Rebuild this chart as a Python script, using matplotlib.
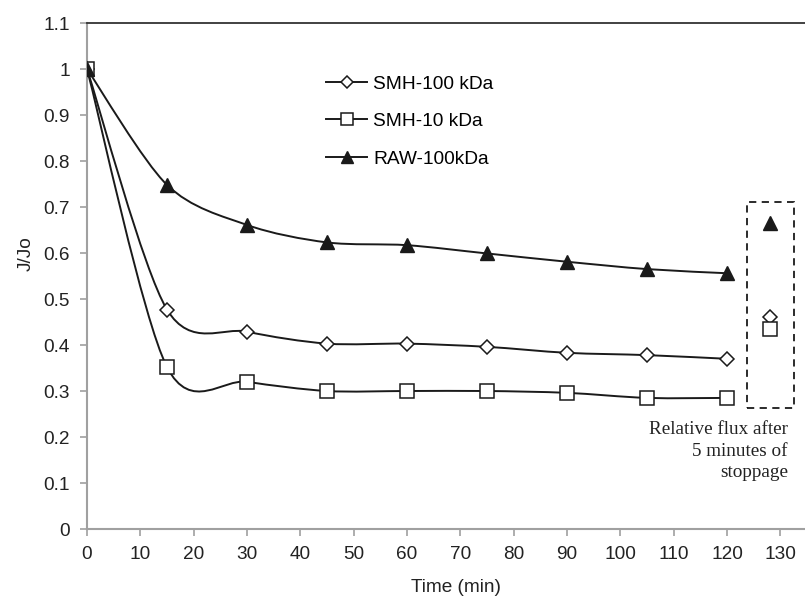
import matplotlib
matplotlib.use("Agg")
import matplotlib.pyplot as plt
from matplotlib.path import Path
from matplotlib.patches import PathPatch, Rectangle
from matplotlib.lines import Line2D
from matplotlib.ticker import FuncFormatter
import numpy as np

# datos
tiempo = [0, 15, 30, 45, 60, 75, 90, 105, 120]
smh_100 = [1.0, 0.477, 0.429, 0.403, 0.403, 0.396, 0.383, 0.378, 0.370]
smh_10 = [1.0, 0.352, 0.320, 0.300, 0.300, 0.300, 0.296, 0.285, 0.285]
raw_100 = [1.0, 0.748, 0.661, 0.623, 0.617, 0.599, 0.581, 0.565, 0.556]

# flujo relativo despues de 5 minutos de parada
t_parada = 128
smh_100_parada = 0.461
smh_10_parada = 0.435
raw_100_parada = 0.665

etiquetas = ["SMH-100 kDa", "SMH-10 kDa", "RAW-100kDa"]

gris = "#a0a0a0"
negro = "#1a1a1a"

plt.rcParams['font.family'] = ['Liberation Sans', 'DejaVu Sans']


def curva_suave(x, y, t=1 / 6):
    # linea suavizada tipo Excel (bezier con puntos de control catmull-rom)
    pts = np.column_stack([x, y]).astype(float)
    n = len(pts)
    verts = [pts[0]]
    codes = [Path.MOVETO]
    for i in range(n - 1):
        p0 = pts[i - 1] if i > 0 else pts[i]
        p1 = pts[i]
        p2 = pts[i + 1]
        p3 = pts[i + 2] if i + 2 < n else pts[i + 1]
        verts += [p1 + (p2 - p0) * t, p2 - (p3 - p1) * t, p2]
        codes += [Path.CURVE4] * 3
    return Path(verts, codes)


fig = plt.figure(figsize=(8.05, 6), dpi=100)
ax = fig.add_axes([87 / 805, 1 - 529 / 600, 720 / 805, 506 / 600])

series = [
    (smh_100, smh_100_parada, dict(marker='D', ms=7, mfc='white', mec=negro, mew=1.1)),
    (smh_10, smh_10_parada, dict(marker='s', ms=10, mfc='white', mec=negro, mew=1.1)),
    (raw_100, raw_100_parada, dict(marker='^', ms=10.5, mfc=negro, mec=negro, mew=1)),
]

for valores, parada, estilo in series:
    ax.add_patch(PathPatch(curva_suave(tiempo, valores, 0.15), fill=False, lw=1.4, ec=negro, zorder=2))
    ax.plot(tiempo, valores, ls='none', zorder=3, **estilo)
    ax.plot([t_parada], [parada], ls='none', zorder=3, **estilo)

# caja punteada
ax.add_patch(Rectangle((123.8, 0.2624), 8.76, 0.449, fill=False, ec=negro,
                       lw=1.3, ls=(0, (4, 3)), zorder=2))
ax.text(131.4, 0.234, "Relative flux after\n5 minutes of\nstoppage", ha='right', va='top',
        multialignment='right', fontsize=13.8, family=['Liberation Serif'], color='#222222',
        linespacing=1.32)

# leyenda
manejadores = [
    Line2D([], [], color=negro, lw=1.4, marker='D', ms=6, mfc='white', mec=negro, mew=1.1),
    Line2D([], [], color=negro, lw=1.4, marker='s', ms=8, mfc='white', mec=negro, mew=1.1),
    Line2D([], [], color=negro, lw=1.4, marker='^', ms=9, mfc=negro, mec=negro),
]
ax.legend(manejadores, etiquetas, loc='upper left', bbox_to_anchor=(0.332, 0.897),
          frameon=False, fontsize=13.8, handlelength=2.15, handletextpad=0.3,
          labelspacing=1.05, borderpad=0, borderaxespad=0)

ax.set_xlim(0, 135)
ax.set_ylim(0, 1.1)
ax.set_xticks(range(0, 131, 10))
ax.set_yticks(np.arange(0, 1.11, 0.1))
ax.yaxis.set_major_formatter(FuncFormatter(lambda v, p: f"{v:g}"))

ax.spines['right'].set_visible(False)
ax.spines['top'].set_color('#333333')
ax.spines['top'].set_linewidth(1.3)
for lado in ['left', 'bottom']:
    ax.spines[lado].set_color(gris)
    ax.spines[lado].set_linewidth(1.5)

ax.tick_params(direction='out', length=5, width=1.2, color=gris, labelcolor='#222222',
               labelsize=13.7, pad=7.5)

ax.set_xlabel("Time (min)", fontsize=13.7, color='#222222')
ax.set_ylabel("J/Jo", fontsize=13.7, color='#222222')
ax.xaxis.set_label_coords(0.5125, -0.098)
ax.yaxis.set_label_coords(-0.073, 0.545)

fig.savefig("out.png", dpi=100)
